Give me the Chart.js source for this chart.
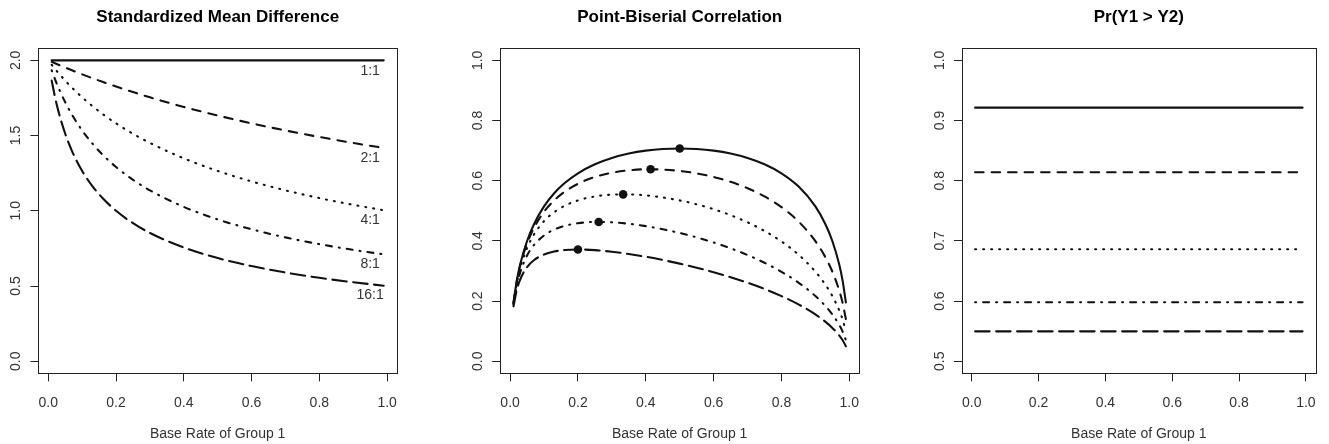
<!DOCTYPE html>
<html>
<head>
<meta charset="utf-8">
<script src="https://cdn.jsdelivr.net/npm/chart.js@4"></script>
<style>
  html, body { margin: 0; padding: 0; background: #ffffff; }
  #wrap { position: relative; width: 1329px; height: 444px; }
  canvas { position: absolute; top: 0; }
</style>
</head>
<body>
<div id="wrap">
  <canvas id="c1" width="443" height="444" style="left:0px"></canvas>
  <canvas id="c2" width="443" height="444" style="left:443px"></canvas>
  <canvas id="c3" width="443" height="444" style="left:886px"></canvas>
</div>
<script>
// ---------------- DATA ----------------
const ratioLabels = ['1:1', '2:1', '4:1', '8:1', '16:1'];

// Panel 1: Standardized Mean Difference
const smdX = [0.01, 0.02, 0.03, 0.05, 0.07, 0.1, 0.13, 0.16, 0.2, 0.25, 0.3, 0.4, 0.5, 0.6, 0.7, 0.8, 0.9, 0.99];
const smd_1_1  = [2, 2, 2, 2, 2, 2, 2, 2, 2, 2, 2, 2, 2, 2, 2, 2, 2, 2];
const smd_2_1  = [1.9901, 1.9803, 1.9707, 1.9518, 1.9335, 1.9069, 1.8815, 1.8570, 1.8257, 1.7889, 1.7541, 1.6903, 1.6330, 1.5811, 1.5339, 1.4907, 1.4510, 1.4178];
const smd_4_1  = [1.9707, 1.9426, 1.9157, 1.8650, 1.8182, 1.7541, 1.6964, 1.6440, 1.5811, 1.5119, 1.4510, 1.3484, 1.2649, 1.1952, 1.1359, 1.0847, 1.0398, 1.0038];
const smd_8_1  = [1.9335, 1.8732, 1.8182, 1.7213, 1.6385, 1.5339, 1.4471, 1.3736, 1.2910, 1.2060, 1.1359, 1.0260, 0.9428, 0.8771, 0.8234, 0.7785, 0.7402, 0.7102];
const smd_16_1 = [1.8650, 1.7541, 1.6609, 1.5119, 1.3969, 1.2649, 1.1645, 1.0847, 1.0000, 0.9177, 0.8528, 0.7559, 0.6860, 0.6325, 0.5898, 0.5547, 0.5252, 0.5024];
const smdLabelX = [0.95, 0.95, 0.95, 0.95, 0.95];
const smdLabelY = [1.93, 1.35, 0.935, 0.645, 0.44];
const smdTicks = [0, 0.5, 1, 1.5, 2];

// Panel 2: Point-Biserial Correlation
const rpbX = [0.01, 0.02, 0.03, 0.05, 0.07, 0.1, 0.13, 0.16, 0.2, 0.25, 0.3, 0.35, 0.4, 0.45, 0.5, 0.55, 0.6, 0.65, 0.7, 0.75, 0.8, 0.85, 0.9, 0.93, 0.95, 0.97, 0.98, 0.99];
const rpb_1_1  = [0.1952, 0.2696, 0.3229, 0.3996, 0.4545, 0.5145, 0.5581, 0.5913, 0.6247, 0.6547, 0.6757, 0.6903, 0.6999, 0.7053, 0.7071, 0.7053, 0.6999, 0.6903, 0.6757, 0.6547, 0.6247, 0.5812, 0.5145, 0.4545, 0.3996, 0.3229, 0.2696, 0.1952];
const rpb_2_1  = [0.1942, 0.2672, 0.3187, 0.3914, 0.4424, 0.4966, 0.5347, 0.5628, 0.5898, 0.6124, 0.6265, 0.6346, 0.6378, 0.6370, 0.6325, 0.6243, 0.6124, 0.5962, 0.5751, 0.5477, 0.5122, 0.4649, 0.3991, 0.3448, 0.2980, 0.2362, 0.1952, 0.1397];
const rpb_4_1  = [0.1924, 0.2624, 0.3106, 0.3766, 0.4208, 0.4657, 0.4955, 0.5162, 0.5345, 0.5477, 0.5537, 0.5545, 0.5512, 0.5444, 0.5345, 0.5215, 0.5053, 0.4855, 0.4617, 0.4330, 0.3980, 0.3544, 0.2978, 0.2536, 0.2169, 0.1700, 0.1397, 0.0994];
const rpb_8_1  = [0.1889, 0.2537, 0.2962, 0.3513, 0.3857, 0.4180, 0.4376, 0.4498, 0.4588, 0.4629, 0.4617, 0.4569, 0.4491, 0.4389, 0.4264, 0.4117, 0.3948, 0.3753, 0.3530, 0.3273, 0.2973, 0.2615, 0.2168, 0.1831, 0.1557, 0.1213, 0.0994, 0.0705];
const rpb_16_1 = [0.1825, 0.2385, 0.2726, 0.3130, 0.3357, 0.3548, 0.3646, 0.3695, 0.3714, 0.3693, 0.3640, 0.3565, 0.3473, 0.3366, 0.3244, 0.3109, 0.2960, 0.2794, 0.2609, 0.2402, 0.2166, 0.1891, 0.1557, 0.1308, 0.1109, 0.0862, 0.0705, 0.0499];
const peakX = [0.5, 0.4142, 0.3333, 0.2612, 0.2];
const peakY = [0.7071, 0.6380, 0.5547, 0.4630, 0.3714];
const rpbTicks = [0, 0.2, 0.4, 0.6, 0.8, 1];

// Panel 3: Pr(Y1 > Y2)
const prX = [0.01, 0.99];
const prValues = [0.9214, 0.8141, 0.6862, 0.5980, 0.5497];
const prTicks = [0.5, 0.6, 0.7, 0.8, 0.9, 1];

const xTicks = [0, 0.2, 0.4, 0.6, 0.8, 1];

// ---------------- STYLE ----------------
const FONT = '"Liberation Sans", Arial, Helvetica, sans-serif';
const TEXT = '#333333';
const LINE = '#111111';
const dashes = [[], [8.5, 8], [1, 7], [1, 7, 6, 7], [14.5, 6.5]];

const boxPlugin = {
  id: 'box',
  afterDatasetsDraw(chart) {
    const a = chart.chartArea, ctx = chart.ctx;
    ctx.save();
    ctx.strokeStyle = '#222222';
    ctx.lineWidth = 1;
    ctx.strokeRect(Math.round(a.left) + 0.5, Math.round(a.top) + 0.5,
                   Math.round(a.right) - Math.round(a.left), Math.round(a.bottom) - Math.round(a.top));
    ctx.restore();
  }
};

const curveLabelPlugin = {
  id: 'curveLabels',
  afterDatasetsDraw(chart, args, opts) {
    if (!opts || !opts.texts) return;
    const ctx = chart.ctx, xs = chart.scales.x, ys = chart.scales.y;
    ctx.save();
    ctx.font = '14px ' + FONT;
    ctx.fillStyle = TEXT;
    ctx.textAlign = 'center';
    ctx.textBaseline = 'middle';
    opts.texts.forEach((t, i) => {
      ctx.fillText(t, xs.getPixelForValue(opts.x[i]), ys.getPixelForValue(opts.y[i]));
    });
    ctx.restore();
  }
};

function lineDs(xs, ys, i) {
  return {
    type: 'line',
    data: xs.map((x, k) => ({ x: x, y: ys[k] })),
    borderColor: LINE,
    borderWidth: 2.1,
    borderDash: dashes[i],
    borderCapStyle: 'round',
    borderJoinStyle: 'round',
    pointRadius: 0,
    fill: false,
    cubicInterpolationMode: 'monotone',
    clip: 0
  };
}

function makePanel(id, cfg) {
  const W = 443, H = 444;
  const plotTop = 48.3, plotBottom = 373.3;
  const titleTop = 7.4;
  const xPad = 0.0392;
  new Chart(document.getElementById(id), {
    data: { datasets: cfg.datasets },
    plugins: [boxPlugin, curveLabelPlugin],
    options: {
      responsive: false,
      animation: false,
      events: [],
      layout: { padding: { left: 0, right: W - cfg.plotRight, top: 0, bottom: 0 } },
      plugins: {
        legend: { display: false },
        tooltip: { enabled: false },
        title: {
          display: true,
          text: cfg.title,
          fullSize: false,
          color: '#000000',
          font: { family: FONT, size: 17, weight: 'bold', lineHeight: 1.2 },
          padding: { top: titleTop, bottom: plotTop - titleTop - 20.4 }
        },
        curveLabels: cfg.labels || {}
      },
      scales: {
        x: {
          type: 'linear',
          position: 'bottom',
          min: 0.01 - xPad,
          max: 0.99 + xPad,
          afterBuildTicks: s => { s.ticks = xTicks.map(v => ({ value: v })); },
          afterFit: s => { s.height = H - plotBottom; },
          border: { display: false },
          grid: { display: true, drawOnChartArea: false, drawTicks: true, tickLength: 8, tickColor: '#222222', lineWidth: 1 },
          ticks: {
            autoSkip: false, maxRotation: 0, minRotation: 0, padding: 13,
            color: TEXT, font: { family: FONT, size: 14 },
            callback: v => Number(v).toFixed(1)
          },
          title: {
            display: true, text: 'Base Rate of Group 1', color: TEXT,
            font: { family: FONT, size: 14, lineHeight: 1.2 },
            padding: { top: 0, bottom: 1.2 }
          }
        },
        y: {
          type: 'linear',
          position: 'left',
          min: cfg.yMin - (cfg.yMax - cfg.yMin) * 0.04,
          max: cfg.yMax + (cfg.yMax - cfg.yMin) * 0.04,
          afterBuildTicks: s => { s.ticks = cfg.yTicks.map(v => ({ value: v })); },
          afterFit: s => { s.width = cfg.plotLeft; },
          border: { display: false },
          grid: { display: true, drawOnChartArea: false, drawTicks: true, tickLength: 8, tickColor: '#222222', lineWidth: 1 },
          ticks: {
            autoSkip: false, minRotation: 90, maxRotation: 90, crossAlign: 'center', padding: 4.5,
            color: TEXT, font: { family: FONT, size: 14 },
            callback: v => Number(v).toFixed(1)
          }
        }
      }
    }
  });
}

// Panel 1
makePanel('c1', {
  title: 'Standardized Mean Difference',
  plotLeft: 38.4, plotRight: 397,
  yMin: 0, yMax: 2, yTicks: smdTicks,
  datasets: [smd_1_1, smd_2_1, smd_4_1, smd_8_1, smd_16_1].map((ys, i) => lineDs(smdX, ys, i)),
  labels: { texts: ratioLabels, x: smdLabelX, y: smdLabelY }
});

// Panel 2
const p2 = [rpb_1_1, rpb_2_1, rpb_4_1, rpb_8_1, rpb_16_1].map((ys, i) => lineDs(rpbX, ys, i));
p2.push({
  type: 'scatter',
  data: peakX.map((x, k) => ({ x: x, y: peakY[k] })),
  showLine: false,
  pointRadius: 4.3,
  pointBackgroundColor: '#111111',
  pointBorderColor: '#111111',
  pointBorderWidth: 0,
  clip: 0
});
makePanel('c2', {
  title: 'Point-Biserial Correlation',
  plotLeft: 57.2, plotRight: 416.2,
  yMin: 0, yMax: 1, yTicks: rpbTicks,
  datasets: p2
});

// Panel 3
makePanel('c3', {
  title: 'Pr(Y1 > Y2)',
  plotLeft: 76, plotRight: 435,
  yMin: 0.5, yMax: 1, yTicks: prTicks,
  datasets: prValues.map((v, i) => lineDs(prX, prX.map(() => v), i))
});
</script>
</body>
</html>
